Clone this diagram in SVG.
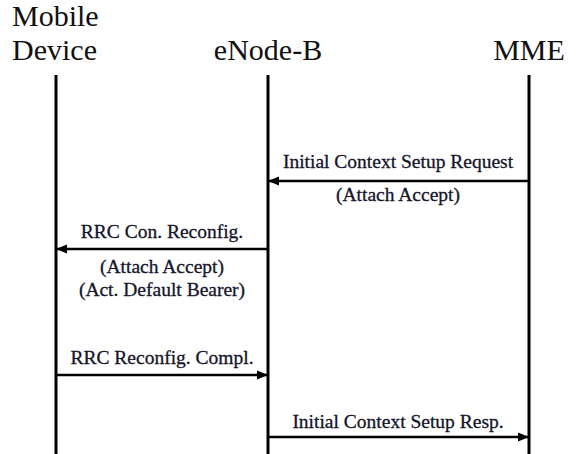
<svg xmlns="http://www.w3.org/2000/svg" width="586" height="454" viewBox="0 0 586 454">
<style>
.h{font-family:"Liberation Serif",serif;font-size:30px;fill:#111;}
.m{font-family:"Liberation Serif",serif;font-size:19.5px;fill:#14142a;stroke:#14142a;stroke-width:0.3;text-anchor:middle;}
.life{stroke:#000;stroke-width:3;fill:none;}
.msg{stroke:#000;stroke-width:2.5;fill:none;marker-end:url(#ah);}
</style>
<defs>
<marker id="ah" viewBox="0 0 10 10" refX="9" refY="5" markerWidth="4.5" markerHeight="4.5" orient="auto" markerUnits="strokeWidth">
<path d="M0,1 L10,5 L0,9 Z" fill="#000"/>
</marker>
</defs>
<rect width="586" height="454" fill="#fff"/>
<g id="mobile">
<text class="h" x="12" y="26">Mobile</text>
<text class="h" x="12" y="60">Device</text>
<line class="life" x1="56" y1="75" x2="56" y2="454"/>
</g>
<g id="enodeb">
<text class="h" x="268" y="60" text-anchor="middle">eNode-B</text>
<line class="life" x1="268" y1="75" x2="268" y2="454"/>
</g>
<g id="mme">
<text class="h" x="529" y="60" text-anchor="middle">MME</text>
<line class="life" x1="529" y1="75" x2="529" y2="454"/>
</g>
<g id="connectors">
<line class="msg" x1="529" y1="181" x2="269" y2="181"/>
<text class="m" x="398" y="168">Initial Context Setup Request</text>
<text class="m" x="398" y="201">(Attach Accept)</text>
<line class="msg" x1="268" y1="249" x2="57" y2="249"/>
<text class="m" x="162" y="238">RRC Con. Reconfig.</text>
<text class="m" x="162" y="273">(Attach Accept)</text>
<text class="m" x="162" y="296">(Act. Default Bearer)</text>
<line class="msg" x1="56" y1="375" x2="267" y2="375"/>
<text class="m" x="162" y="364">RRC Reconfig. Compl.</text>
<line class="msg" x1="268" y1="437" x2="528" y2="437"/>
<text class="m" x="398" y="428">Initial Context Setup Resp.</text>
</g>
</svg>
